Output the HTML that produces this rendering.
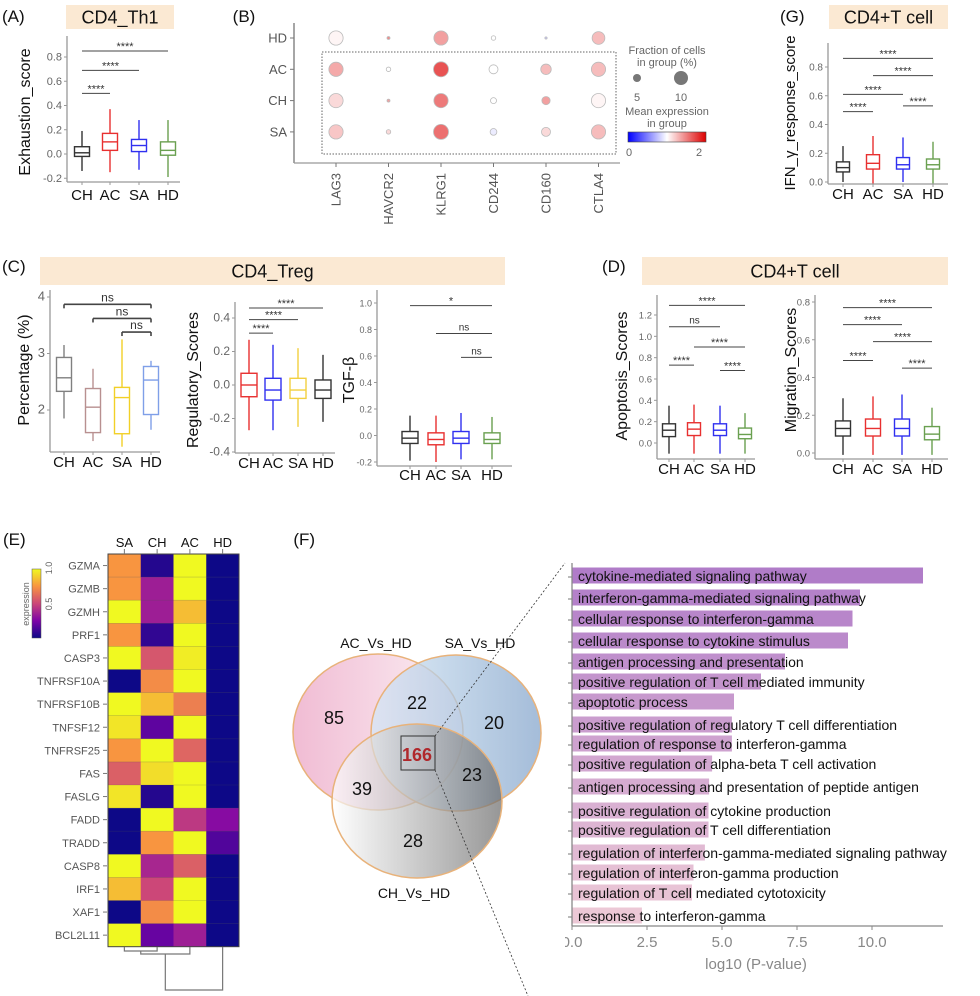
<!DOCTYPE html>
<html><head><meta charset="utf-8">
<style>
html,body{margin:0;padding:0;background:#fff;}
svg{display:block;font-family:"Liberation Sans",sans-serif;}
</style></head>
<body>
<svg id="fig" width="980" height="996" viewBox="0 0 980 996" xmlns="http://www.w3.org/2000/svg">
<defs>
<linearGradient id="gAC" x1="0" x2="1" y1="0" y2="0"><stop offset="0" stop-color="#eeb0cc"/><stop offset="1" stop-color="#fbeef3"/></linearGradient>
<linearGradient id="gSA" x1="0" x2="1" y1="0" y2="0"><stop offset="0" stop-color="#d6e8f6"/><stop offset="1" stop-color="#86a6cc"/></linearGradient>
<linearGradient id="gCH" x1="0" x2="1" y1="0" y2="0"><stop offset="0" stop-color="#ffffff"/><stop offset="1" stop-color="#6a6a6a"/></linearGradient>
<linearGradient id="gCB" x1="0" x2="1" y1="0" y2="0"><stop offset="0" stop-color="#0000ff"/><stop offset="0.5" stop-color="#ffffff"/><stop offset="1" stop-color="#dd0000"/></linearGradient>
<linearGradient id="gPL" x1="0" x2="0" y1="1" y2="0"><stop offset="0" stop-color="#0d0887"/><stop offset="0.25" stop-color="#7e03a8"/><stop offset="0.5" stop-color="#cc4778"/><stop offset="0.75" stop-color="#f89540"/><stop offset="1" stop-color="#f0f921"/></linearGradient>
</defs>
<g id="root"></g>
</svg>
<script>
// ---------- data ----------
const groups = ["CH","AC","SA","HD"];
const aStats = [[-0.14,-0.02,0.01,0.06,0.19],[-0.15,0.03,0.10,0.17,0.37],[-0.13,0.02,0.07,0.12,0.28],[-0.19,-0.01,0.03,0.10,0.28]];
const aSig = [[0,1,0.50,"****"],[0,2,0.69,"****"],[0,3,0.85,"****"]];
const aTicks = [-0.2,0.0,0.2,0.4,0.6,0.8];
const gStats = [[0.0,0.07,0.10,0.14,0.25],[-0.01,0.09,0.13,0.19,0.32],[0.0,0.09,0.12,0.17,0.31],[-0.01,0.09,0.12,0.16,0.28]];
const gSig = [[0,1,0.49,"****"],[2,3,0.53,"****"],[0,2,0.61,"****"],[1,3,0.74,"****"],[0,3,0.86,"****"]];
const gTicks = [0.0,0.2,0.4,0.6,0.8];
const c1Stats = [[1.85,2.33,2.57,2.93,3.15],[1.45,1.60,2.05,2.38,2.73],[1.35,1.58,2.22,2.40,3.25],[1.65,1.92,2.53,2.77,2.87]];
const c1Sig = [[0,3,3.87,"ns"],[1,3,3.62,"ns"],[2,3,3.38,"ns"]];
const c1Ticks = [2,3,4];
const c2Stats = [[-0.27,-0.07,0.0,0.07,0.27],[-0.27,-0.09,-0.03,0.04,0.24],[-0.25,-0.08,-0.03,0.04,0.22],[-0.22,-0.08,-0.03,0.03,0.18]];
const c2Sig = [[0,1,0.31,"****"],[0,2,0.39,"****"],[0,3,0.46,"****"]];
const c2Ticks = [-0.4,-0.2,0.0,0.2,0.4];
const c3Stats = [[-0.19,-0.06,-0.02,0.03,0.15],[-0.20,-0.07,-0.03,0.02,0.15],[-0.18,-0.06,-0.02,0.03,0.17],[-0.18,-0.06,-0.03,0.02,0.14]];
const c3Sig = [[0,3,0.98,"*"],[1,3,0.77,"ns"],[2,3,0.59,"ns"]];
const c3Ticks = [-0.2,0.0,0.2,0.4,0.6,0.8,1.0];
const d1Stats = [[-0.10,0.06,0.12,0.18,0.35],[-0.10,0.07,0.13,0.19,0.36],[-0.10,0.07,0.12,0.18,0.35],[-0.10,0.04,0.08,0.14,0.28]];
const d1Sig = [[0,1,0.73,"****"],[2,3,0.68,"****"],[1,3,0.90,"****"],[0,2,1.09,"ns"],[0,3,1.29,"****"]];
const d1Ticks = [0.0,0.2,0.4,0.6,0.8,1.0,1.2];
const d2Stats = [[-0.01,0.09,0.13,0.17,0.29],[-0.01,0.09,0.13,0.18,0.30],[-0.01,0.09,0.13,0.18,0.31],[-0.01,0.07,0.10,0.14,0.24]];
const d2Sig = [[0,1,0.49,"****"],[2,3,0.45,"****"],[1,3,0.59,"****"],[0,2,0.68,"****"],[0,3,0.77,"****"]];
const d2Ticks = [0.0,0.2,0.4,0.6,0.8];
// dot plot
const dotGenes = ["LAG3","HAVCR2","KLRG1","CD244","CD160","CTLA4"];
const dotRows = ["HD","AC","CH","SA"];
const dotFrac = [[9.5,2,9.5,3,1.5,8.5],[9.5,3,10,6,7,9.5],[9.5,2,9.5,4,5.5,9.5],[9.5,3,10,4.5,6,9.5]];
const dotExpr = [[1.05,1.6,1.5,1.0,0.7,1.35],[1.45,1.0,1.9,1.0,1.35,1.35],[1.2,1.5,1.7,1.0,1.5,1.05],[1.3,1.2,1.75,0.9,1.2,1.35]];
// heatmap
const hmCols = ["SA","CH","AC","HD"];
const hmGenes = ["GZMA","GZMB","GZMH","PRF1","CASP3","TNFRSF10A","TNFRSF10B","TNFSF12","TNFRSF25","FAS","FASLG","FADD","TRADD","CASP8","IRF1","XAF1","BCL2L11"];
const hmVals = [[0.75,0.05,1,0],[0.75,0.35,1,0],[1,0.35,0.85,0],[0.75,0.08,1,0],[1,0.55,0.97,0],[0,0.72,1,0],[1,0.85,0.68,0],[0.95,0.18,1,0],[0.75,1,0.6,0],[0.58,0.93,1,0],[0.95,0.05,1,0],[0,1,0.45,0.28],[0,0.75,1,0.15],[1,0.38,0.58,0],[0.85,0.5,1,0],[0,0.72,1,0],[1,0.2,0.35,0]];
// venn
const vennLabels = ["85","22","20","166","39","23","28"];
// GO bars
const goTerms = ["cytokine-mediated signaling pathway","interferon-gamma-mediated signaling pathway","cellular response to interferon-gamma","cellular response to cytokine stimulus","antigen processing and presentation","positive regulation of T cell mediated immunity","apoptotic process","positive regulation of regulatory T cell differentiation","regulation of response to interferon-gamma","positive regulation of alpha-beta T cell activation","antigen processing and presentation of peptide antigen","positive regulation of cytokine production","positive regulation of T cell differentiation","regulation of interferon-gamma-mediated signaling pathway","regulation of interferon-gamma production","regulation of T cell mediated cytotoxicity","response to interferon-gamma"];
const goVals = [11.7,9.6,9.35,9.2,7.1,6.3,5.4,5.33,5.33,4.67,4.57,4.55,4.55,4.43,4.05,4.0,2.33];
const goTicks = [0,2.5,5,7.5,10];

// ---------- helpers ----------
const NS="http://www.w3.org/2000/svg";
const root=document.getElementById('root');
function mk(tag,attrs,parent,txt){const e=document.createElementNS(NS,tag);for(const k in attrs)e.setAttribute(k,attrs[k]);if(txt!==undefined)e.textContent=txt;(parent||root).appendChild(e);return e;}
function lin(v1,p1,v2,p2){return v=>p1+(v-v1)*(p2-p1)/(v2-v1);}

function band(x,y,w,h,label,name,fs){
  const g=mk('g',{});
  
  
  mk('rect',{x:x,y:y,width:w,height:h,fill:'#fbe9d3'},g);
  mk('text',{x:x+w/2,y:y+h/2+fs*0.36,'font-size':fs,'text-anchor':'middle',fill:'#111'},g,label);
}
function plabel(x,y,t,name){const e=mk('text',{x:x,y:y,'font-size':17,fill:'#111'},root,t);}

function boxPanel(c){
  const g=mk('g',{});
  
  
  const y=lin(c.v1,c.p1,c.v2,c.p2);
  const ax=mk('line',{x1:c.ax,y1:c.top,x2:c.ax,y2:c.bot,stroke:'#999','stroke-width':1.3},g);
  
  mk('line',{x1:c.ax,y1:c.bot,x2:c.right,y2:c.bot,stroke:'#999','stroke-width':1.3},g);
  c.ticks.forEach(t=>{
    const py=y(t);
    mk('line',{x1:c.ax-3,y1:py,x2:c.ax,y2:py,stroke:'#999'},g);
    const tl=mk('text',{x:c.ax-5,y:py+3.5,'font-size':c.tfs||10,'text-anchor':'end',fill:'#666'},g,c.fmt?c.fmt(t):t.toFixed(1));
    
  });
  const yt=mk('text',{transform:`translate(${c.tx},${c.ty}) rotate(-90)`,'font-size':c.yfs||16,'text-anchor':'middle',fill:'#111'},g,c.ytitle);
  
  groups.forEach((gname,i)=>{
    const cx=c.cx[i];
    mk('line',{x1:cx,y1:c.bot,x2:cx,y2:c.bot+3,stroke:'#999'},g);
    const xl=mk('text',{x:cx,y:c.bot+c.lo,'font-size':c.xfs||15,'text-anchor':'middle',fill:'#111'},g,gname);
    
    const s=c.stats[i],col=c.colors[i];
    const b=mk('g',{},g);
    
    
    mk('line',{x1:cx,y1:y(s[0]),x2:cx,y2:y(s[4]),stroke:col,'stroke-width':1.4},b);
    mk('rect',{x:cx-c.bw/2,y:y(s[3]),width:c.bw,height:y(s[1])-y(s[3]),fill:'#fff',stroke:col,'stroke-width':1.4},b);
    mk('line',{x1:cx-c.bw/2,y1:y(s[2]),x2:cx+c.bw/2,y2:y(s[2]),stroke:col,'stroke-width':1.4},b);
  });
  c.sig.forEach(sg=>{
    const py=y(sg[2]);
    const x1=c.cx[sg[0]],x2=c.cx[sg[1]];
    const s=mk('g',{},g);
    
    
    mk('line',{x1:x1,y1:py,x2:x2,y2:py,stroke:'#444','stroke-width':c.sw||1},s);
    if(c.legs){mk('line',{x1:x1,y1:py,x2:x1,y2:py+4,stroke:'#444','stroke-width':c.sw||1},s);mk('line',{x1:x2,y1:py,x2:x2,y2:py+4,stroke:'#444','stroke-width':c.sw||1},s);}
    mk('text',{x:(x1+x2)/2,y:py-(sg[3]==='ns'?3:1),'font-size':sg[3]==='ns'?(c.nsfs||10):11,'text-anchor':'middle',fill:'#333'},s,sg[3]);
  });
}

// ---------- Panel A ----------
plabel(2,22,"(A)","panel-label-a");
band(66,5,108,24,"CD4_Th1","title-cd4-th1",18);
boxPanel({name:'panel-a-exhaustion',ax:67,top:36,bot:182,right:180,v1:0,p1:154,v2:0.8,p2:57,ticks:aTicks,tfs:11,
  cx:[82,110,139,168],bw:15,stats:aStats,sig:aSig,colors:['#333','#e83030','#3030f0','#6aa050'],
  ytitle:'Exhaustion_score',tx:30,ty:112,lo:18});

// ---------- Panel B ----------
plabel(180+158/3,22,"(B)","panel-label-b");
(function(){
  const g=mk('g',{});
  
  
  const xs=lin(0,336,1,388.5), ys=lin(0,38,1,69.3);
  mk('line',{x1:294,y1:23,x2:294,y2:163,stroke:'#777','stroke-width':1.3},g);
  mk('line',{x1:294,y1:163,x2:620,y2:163,stroke:'#999','stroke-width':1.3},g);
  mk('rect',{x:322,y:52,width:294,height:102,fill:'none',stroke:'#666','stroke-dasharray':'1.5,1.5'},g);
  const fill=v=>{
    const t=v/2; let r,gg,b;
    if(t<0.5){const u=t/0.5;r=Math.round(0+255*u);gg=r;b=255;}else{const u=(t-0.5)/0.5;r=Math.round(255-34*u);gg=Math.round(255-255*u);b=gg;}
    return `rgb(${r},${gg},${b})`;};
  dotRows.forEach((r,i)=>{
    mk('line',{x1:290,y1:ys(i),x2:294,y2:ys(i),stroke:'#777'},g);
    const t=mk('text',{x:287,y:ys(i)+4.5,'font-size':13,'text-anchor':'end',fill:'#555'},g,r);
    
    dotGenes.forEach((gn,j)=>{
      const rr=Math.max(0.8,dotFrac[i][j]*0.75);
      const c=mk('circle',{cx:xs(j),cy:ys(i),r:rr,fill:fill(dotExpr[i][j]),'fill-opacity':0.75,stroke:'#bbb','stroke-width':0.8},g);
      
      
    });
  });
  dotGenes.forEach((gn,j)=>{
    mk('line',{x1:xs(j),y1:163,x2:xs(j),y2:167,stroke:'#777'},g);
    const t=mk('text',{transform:`translate(${xs(j)+4.5},173) rotate(-90)`,'font-size':13,'text-anchor':'end',fill:'#555'},g,gn);
    
  });
  const lg=mk('g',{},g);
  
  
  mk('text',{x:667,y:54,'font-size':11,'text-anchor':'middle',fill:'#666'},lg,'Fraction of cells');
  mk('text',{x:667,y:66,'font-size':11,'text-anchor':'middle',fill:'#666'},lg,'in group (%)');
  mk('circle',{cx:637,cy:78,r:4,fill:'#777'},lg);
  mk('circle',{cx:681,cy:78,r:7,fill:'#777'},lg);
  mk('text',{x:637,y:101,'font-size':11,'text-anchor':'middle',fill:'#666'},lg,'5');
  mk('text',{x:681,y:101,'font-size':11,'text-anchor':'middle',fill:'#666'},lg,'10');
  mk('text',{x:667,y:115,'font-size':11,'text-anchor':'middle',fill:'#666'},lg,'Mean expression');
  mk('text',{x:667,y:127,'font-size':11,'text-anchor':'middle',fill:'#666'},lg,'in group');
  mk('rect',{x:628,y:132,width:78,height:10,fill:'url(#gCB)',stroke:'#444','stroke-width':0.6},lg);
  mk('text',{x:629,y:156,'font-size':11,'text-anchor':'middle',fill:'#666'},lg,'0');
  mk('text',{x:699,y:156,'font-size':11,'text-anchor':'middle',fill:'#666'},lg,'2');
})();

// ---------- Panel G ----------
plabel(780,22,"(G)","panel-label-g");
band(829,5,119,24,"CD4+T cell","title-g-cd4-t-cell",18);
boxPanel({name:'panel-g-ifn',ax:828,top:43,bot:184,right:948,v1:0,p1:182,v2:0.8,p2:67,ticks:gTicks,tfs:10,
  cx:[843,873,903,933],bw:13,stats:gStats,sig:gSig,colors:['#333','#e83030','#3030f0','#6aa050'],
  ytitle:'IFN_γ_response_score',yfs:15,tx:795,ty:113,lo:15});

// ---------- Panel C ----------
plabel(2,272,"(C)","panel-label-c");
band(40,257,465,28,"CD4_Treg","title-cd4-treg",18);
boxPanel({name:'panel-c-percentage',ax:50,top:290,bot:452,right:160,v1:2,p1:410,v2:4,p2:297,ticks:c1Ticks,fmt:t=>String(t),tfs:13,
  cx:[64,93,122,151],bw:15,stats:c1Stats,sig:c1Sig,colors:['#808080','#b89090','#f2d027','#7f9fe8'],legs:true,sw:1.6,nsfs:12,
  ytitle:'Percentage (%)',tx:29,ty:370,lo:15});
boxPanel({name:'panel-c-regulatory',ax:235,top:302,bot:453,right:335,v1:0,p1:385,v2:0.4,p2:318,ticks:c2Ticks,tfs:12,
  cx:[249,273,298,323],bw:16,stats:c2Stats,sig:c2Sig,colors:['#e83030','#3030f0','#f2d040','#333'],
  ytitle:'Regulatory_Scores',tx:198,ty:380,lo:15});
boxPanel({name:'panel-c-tgfb',ax:377,top:290,bot:466,right:512,v1:0,p1:435.5,v2:1.0,p2:303,ticks:c3Ticks,tfs:9,
  cx:[410,436,461,492],bw:16,stats:c3Stats,sig:c3Sig,colors:['#333','#e83030','#3030f0','#6aa050'],
  ytitle:'TGF-β',tx:354,ty:380,lo:14});

// ---------- Panel D ----------
plabel(602,272,"(D)","panel-label-d");
band(642,257,306,28,"CD4+T cell","title-d-cd4-t-cell",18);
boxPanel({name:'panel-d-apoptosis',ax:657,top:295,bot:459,right:755,v1:0,p1:443,v2:1.2,p2:315,ticks:d1Ticks,tfs:9.5,
  cx:[669,694,720,745],bw:13,stats:d1Stats,sig:d1Sig,colors:['#333','#e83030','#3030f0','#6aa050'],
  ytitle:'Apoptosis_Scores',tx:627,ty:376,lo:15});
boxPanel({name:'panel-d-migration',ax:815,top:295,bot:459,right:948,v1:0,p1:453,v2:0.8,p2:302,ticks:d2Ticks,tfs:9.5,
  cx:[843,873,902,932],bw:15,stats:d2Stats,sig:d2Sig,colors:['#333','#e83030','#3030f0','#6aa050'],
  ytitle:'Migration_Scores',tx:796,ty:370,lo:15});

// ---------- Panel E ----------
plabel(3,545,"(E)","panel-label-e");
(function(){
  const g=mk('g',{});
  
  
  const stops=[[13,8,135],[126,3,168],[204,71,120],[248,149,64],[240,249,33]];
  const pl=v=>{const t=Math.max(0,Math.min(1,v))*4;const i=Math.min(3,Math.floor(t));const u=t-i;const a=stops[i],b=stops[i+1];
    return `rgb(${Math.round(a[0]+(b[0]-a[0])*u)},${Math.round(a[1]+(b[1]-a[1])*u)},${Math.round(a[2]+(b[2]-a[2])*u)})`;};
  const x0=108,cw=32.75,y0=554,rh=23.1;
  hmGenes.forEach((gn,i)=>{
    hmCols.forEach((cn,j)=>{
      const r=mk('rect',{x:x0+j*cw,y:y0+i*rh,width:cw+0.3,height:rh+0.3,fill:pl(hmVals[i][j])},g);
      
      
      mk('line',{x1:x0+j*cw,y1:y0+i*rh,x2:x0+(j+1)*cw,y2:y0+i*rh,stroke:'rgba(80,80,80,0.35)','stroke-width':0.6},g);
    });
    const t=mk('text',{x:100,y:y0+i*rh+rh/2+4,'font-size':11,'text-anchor':'end',fill:'#555'},g,gn);
    
    mk('line',{x1:103,y1:y0+i*rh+rh/2,x2:107,y2:y0+i*rh+rh/2,stroke:'#777'},g);
  });
  mk('rect',{x:x0,y:y0,width:cw*4,height:rh*17,fill:'none',stroke:'#444','stroke-width':1},g);
  hmCols.forEach((cn,j)=>{
    const t=mk('text',{x:x0+j*cw+cw/2,y:547,'font-size':13,'text-anchor':'middle',fill:'#111'},g,cn);
    
    mk('line',{x1:x0+j*cw+cw/2,y1:549,x2:x0+j*cw+cw/2,y2:554,stroke:'#777'},g);
  });
  mk('rect',{x:32,y:569,width:9,height:69,fill:'url(#gPL)',stroke:'#555','stroke-width':0.5},g);
  mk('text',{transform:'translate(29,604) rotate(-90)','font-size':9,'text-anchor':'middle',fill:'#666'},g,'expression');
  mk('text',{transform:'translate(52,568) rotate(-90)','font-size':9,'text-anchor':'middle',fill:'#666'},g,'1.0');
  mk('text',{transform:'translate(52,604) rotate(-90)','font-size':9,'text-anchor':'middle',fill:'#666'},g,'0.5');
  const cx=j=>x0+j*cw+cw/2, dd=mk('g',{},g);
  
  const p='stroke:#777;fill:none;stroke-width:1.2';
  mk('path',{d:`M${cx(0)},947 V951 H${cx(1)} V947`,style:p},dd);
  mk('path',{d:`M${(cx(0)+cx(1))/2},951 V954 H${cx(2)} V947`,style:p},dd);
  mk('path',{d:`M${((cx(0)+cx(1))/2+cx(2))/2},954 V990 H${cx(3)} V947`,style:p},dd);
})();

// ---------- Panel F: Venn ----------
plabel(250+130/3,545,"(F)","panel-label-f");
(function(){
  const g=mk('g',{});
  
  
  const s='#e8b27a';
  const a=mk('ellipse',{cx:378,cy:732,rx:85,ry:78,fill:'url(#gAC)','fill-opacity':0.85,stroke:s,'stroke-width':1.5},g);
  
  const b=mk('ellipse',{cx:456,cy:733,rx:85,ry:78,fill:'url(#gSA)','fill-opacity':0.75,stroke:s,'stroke-width':1.5},g);
  
  const c=mk('ellipse',{cx:417,cy:801,rx:85,ry:77,fill:'url(#gCH)','fill-opacity':0.7,stroke:s,'stroke-width':1.5},g);
  
  mk('text',{x:376,y:648,'font-size':14,'text-anchor':'middle',fill:'#111'},g,'AC_Vs_HD');
  mk('text',{x:480,y:648,'font-size':14,'text-anchor':'middle',fill:'#111'},g,'SA_Vs_HD');
  mk('text',{x:414,y:898,'font-size':14,'text-anchor':'middle',fill:'#111'},g,'CH_Vs_HD');
  const pos=[[334,724],[417,709],[494,729],[417,761],[362,795],[472,781],[413,847]];
  vennLabels.forEach((t,i)=>{
    const e=mk('text',{x:pos[i][0],y:pos[i][1],'font-size':18,'text-anchor':'middle',fill:i===3?'#b0282c':'#111','font-weight':i===3?'bold':'normal'},g,t);
    
  });
  mk('rect',{x:401,y:736,width:34,height:34,fill:'none',stroke:'#333','stroke-width':1},g);
  mk('line',{x1:435,y1:736,x2:565,y2:563,stroke:'#333','stroke-width':0.8,'stroke-dasharray':'2,2'},g);
  mk('line',{x1:435,y1:770,x2:528,y2:996,stroke:'#333','stroke-width':0.8,'stroke-dasharray':'2,2'},g);
})();

// ---------- Panel F: GO bars ----------
(function(){
  const g=mk('g',{});
  
  
  const x=lin(0,572,10,872);
  const yc=[576,598,619,641,662,682,702,725,744,764,787,811,830,853,873,893,916];
  const c0=[176,124,200],c1=[236,200,214];
  goVals.forEach((v,i)=>{
    const u=i/(goVals.length-1);
    const col=`rgb(${Math.round(c0[0]+(c1[0]-c0[0])*u)},${Math.round(c0[1]+(c1[1]-c0[1])*u)},${Math.round(c0[2]+(c1[2]-c0[2])*u)})`;
    const r=mk('rect',{x:x(0),y:yc[i]-8.5,width:x(v)-x(0),height:16,fill:col},g);
    
    
    mk('line',{x1:x(0)-4,y1:yc[i]+1,x2:x(0),y2:yc[i]+1,stroke:'#777'},g);
    const t=mk('text',{x:578,y:yc[i]+5,'font-size':14,fill:'#111'},g,goTerms[i]);
    
  });
  mk('line',{x1:x(0),y1:563,x2:x(0),y2:926,stroke:'#888','stroke-width':1.3},g);
  mk('line',{x1:x(0),y1:926,x2:943,y2:926,stroke:'#888','stroke-width':1.3},g);
  goTicks.forEach(t=>{
    mk('line',{x1:x(t),y1:926,x2:x(t),y2:930,stroke:'#888'},g);
    const e=mk('text',{x:x(t),y:947,'font-size':15,'text-anchor':'middle',fill:'#888'},g,t.toFixed(1));
    
  });
  mk('rect',{x:555,y:930,width:10,height:22,fill:'#fff'},g);
  const xt=mk('text',{x:756,y:969,'font-size':15,'text-anchor':'middle',fill:'#888'},g,'log10 (P-value)');
  
})();
</script>
</body></html>
